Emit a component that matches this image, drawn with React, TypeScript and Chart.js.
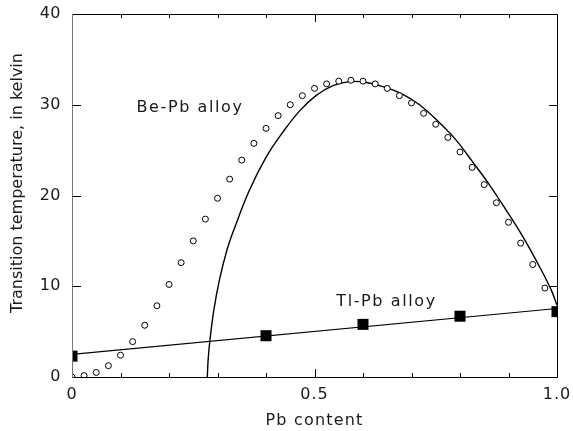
import React, { useEffect, useRef } from "react";
import { Chart, registerables } from "chart.js";

Chart.register(...registerables);

// Be-Pb alloy measured points (open circles)
const beX = [0, 0.025, 0.05, 0.075, 0.1, 0.125, 0.15, 0.175, 0.2, 0.225, 0.25, 0.275, 0.3, 0.325, 0.35, 0.375, 0.4, 0.425, 0.45, 0.475, 0.5, 0.525, 0.55, 0.575, 0.6, 0.625, 0.65, 0.675, 0.7, 0.725, 0.75, 0.775, 0.8, 0.825, 0.85, 0.875, 0.9, 0.925, 0.95, 0.975, 1.0];
const beY = [0, 0.15, 0.5, 1.25, 2.4, 3.9, 5.7, 7.85, 10.2, 12.6, 15.0, 17.4, 19.7, 21.8, 23.9, 25.75, 27.4, 28.8, 30.0, 31.0, 31.8, 32.3, 32.6, 32.7, 32.6, 32.3, 31.8, 31.0, 30.2, 29.05, 27.85, 26.4, 24.8, 23.1, 21.2, 19.2, 17.05, 14.75, 12.4, 9.8, 7.2];

// Be-Pb theoretical curve (solid line)
const curveX = [0.279, 0.2808, 0.2845, 0.2925, 0.304, 0.3195, 0.335, 0.366, 0.4, 0.435, 0.469, 0.503, 0.538, 0.572, 0.607, 0.641, 0.68, 0.7165, 0.758, 0.792, 0.826, 0.861, 0.895, 0.9295, 0.964, 0.988, 1.0];
const curveY = [0, 2.0, 4.1, 7.4, 10.7, 14.0, 16.4, 20.6, 24.2, 27.0, 29.3, 31.0, 32.1, 32.55, 32.45, 32.0, 31.2, 30.0, 28.0, 26.1, 23.7, 21.15, 18.4, 15.46, 12.15, 9.6, 7.9];

// Tl-Pb alloy measured points (filled squares)
const tlX = [0, 0.4, 0.6, 0.8, 1.0];
const tlY = [2.3, 4.55, 5.8, 6.7, 7.2];

// Tl-Pb straight fit line
const fitX = [0, 1.0];
const fitY = [2.5, 7.55];

const xTickValues = [0, 0.5, 1.0];
const xTickLabels = ["0", "0.5", "1.0"];
const yTickValues = [0, 10, 20, 30, 40];
const yTickLabels = ["0", "10", "20", "30", "40"];
const xMinorTicks = [0.1, 0.2, 0.3, 0.4, 0.6, 0.7, 0.8, 0.9];
const xMajorTicks = [0.5];
const yMajorTicks = [10, 20, 30];

const annotations = [
  { text: "Be-Pb alloy", x: 0.133, y: 29.7 },
  { text: "Tl-Pb alloy", x: 0.545, y: 8.3 },
];

const xTitle = "Pb content";
const yTitle = "Transition temperature, in kelvin";

const FONT = "DejaVu Sans, sans-serif";
const TEXT = "#1a1a1a";

const pts = (xs: number[], ys: number[]) => xs.map((x, i) => ({ x, y: ys[i] }));

const framePlugin = {
  id: "frame",
  afterDatasetsDraw(chart: any) {
    const { ctx, chartArea: a, scales } = chart;
    const xs = scales.x;
    const ys = scales.y;
    ctx.save();
    // axes / frame
    ctx.lineWidth = 1;
    ctx.strokeStyle = "#000";
    ctx.beginPath();
    ctx.moveTo(a.left, a.bottom + 0.5);
    ctx.lineTo(a.right + 0.5, a.bottom + 0.5);
    ctx.lineTo(a.right + 0.5, a.top + 0.5);
    ctx.lineTo(a.left, a.top + 0.5);
    ctx.stroke();
    ctx.strokeStyle = "#777";
    ctx.beginPath();
    ctx.moveTo(a.left + 0.5, a.top);
    ctx.lineTo(a.left + 0.5, a.bottom + 1);
    ctx.stroke();
    // ticks
    ctx.strokeStyle = "#000";
    ctx.beginPath();
    const xt = (v: number, len: number) => {
      const p = Math.round(xs.getPixelForValue(v)) + 0.5;
      ctx.moveTo(p, a.bottom);
      ctx.lineTo(p, a.bottom - len);
      ctx.moveTo(p, a.top);
      ctx.lineTo(p, a.top + len);
    };
    xMinorTicks.forEach((v) => xt(v, 4));
    xMajorTicks.forEach((v) => xt(v, 8));
    yMajorTicks.forEach((v) => {
      const p = Math.round(ys.getPixelForValue(v)) + 0.5;
      ctx.moveTo(a.left, p);
      ctx.lineTo(a.left + 9, p);
      ctx.moveTo(a.right, p);
      ctx.lineTo(a.right - 8, p);
    });
    ctx.stroke();
    ctx.fillStyle = TEXT;
    ctx.font = `16px ${FONT}`;
    ctx.textBaseline = "middle";
    // tick labels
    ctx.letterSpacing = "1px";
    ctx.textAlign = "center";
    xTickValues.forEach((v, i) => {
      ctx.fillText(xTickLabels[i], xs.getPixelForValue(v), a.bottom + 18);
    });
    ctx.letterSpacing = "0.5px";
    ctx.textAlign = "right";
    yTickValues.forEach((v, i) => {
      ctx.fillText(yTickLabels[i], a.left - 11, ys.getPixelForValue(v));
    });
    // annotations
    ctx.letterSpacing = "1.6px";
    ctx.textAlign = "left";
    annotations.forEach((an) => {
      ctx.fillText(an.text, xs.getPixelForValue(an.x), ys.getPixelForValue(an.y));
    });
    // titles
    ctx.letterSpacing = "1.2px";
    ctx.textAlign = "center";
    ctx.fillText(xTitle, (a.left + a.right) / 2, 421);
    ctx.letterSpacing = "0px";
    ctx.translate(18, 183);
    ctx.rotate(-Math.PI / 2);
    ctx.fillText(yTitle, 0, 0);
    ctx.restore();
  },
};

export default function App() {
  const ref = useRef<HTMLCanvasElement>(null);
  useEffect(() => {
    document.body.style.margin = "0";
    const chart = new Chart(ref.current!, {
      type: "scatter",
      data: {
        datasets: [
          {
            label: "Tl-Pb points",
            data: pts(tlX, tlY),
            pointStyle: "rect",
            pointRadius: 7.8,
            backgroundColor: "#000",
            borderColor: "#000",
            borderWidth: 0,
            showLine: false,
            order: 0,
          },
          {
            label: "Tl-Pb fit",
            data: pts(fitX, fitY),
            showLine: true,
            pointRadius: 0,
            borderColor: "#000",
            borderWidth: 1.2,
            order: 1,
          },
          {
            label: "Be-Pb points",
            data: pts(beX, beY),
            pointStyle: "circle",
            pointRadius: 3,
            backgroundColor: "#fff",
            borderColor: "#000",
            borderWidth: 1,
            showLine: false,
            order: 2,
          },
          {
            label: "Be-Pb curve",
            data: pts(curveX, curveY),
            showLine: true,
            pointRadius: 0,
            borderColor: "#000",
            borderWidth: 1.4,
            tension: 0.4,
            order: 3,
          } as any,
        ],
      },
      options: {
        animation: false,
        responsive: false,
        maintainAspectRatio: false,
        layout: { padding: { top: 14, right: 16, left: 0, bottom: 0 } },
        plugins: { legend: { display: false }, tooltip: { enabled: false } },
        scales: {
          x: {
            type: "linear",
            min: 0,
            max: 1,
            grid: { display: false },
            border: { display: false },
            ticks: { display: false },
            afterFit: (s: any) => {
              s.height = 54;
              s.paddingLeft = 0;
              s.paddingRight = 0;
            },
          },
          y: {
            type: "linear",
            min: 0,
            max: 40,
            grid: { display: false },
            border: { display: false },
            ticks: { display: false },
            afterFit: (s: any) => {
              s.width = 72;
              s.paddingTop = 0;
              s.paddingBottom = 0;
            },
          },
        },
      },
      plugins: [framePlugin],
    });
    return () => chart.destroy();
  }, []);
  return (
    <div style={{ position: "absolute", left: 0, top: 0, width: 573, height: 431 }}>
      <canvas ref={ref} width={573} height={431} style={{ width: 573, height: 431 }} />
    </div>
  );
}
